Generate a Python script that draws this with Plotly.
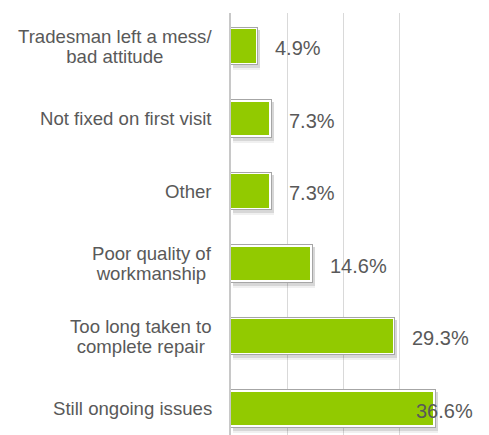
import plotly.graph_objects as go

# Reasons for dissatisfaction with repairs (top to bottom)
categories = [
    "Tradesman left a mess/<br>bad attitude",
    "Not fixed on first visit",
    "Other",
    "Poor quality of<br>workmanship",
    "Too long taken to<br>complete repair",
    "Still ongoing issues",
]
values = [4.9, 7.3, 7.3, 14.6, 29.3, 36.6]
value_labels = ["4.9%", "7.3%", "7.3%", "14.6%", "29.3%", "36.6%"]
grid_ticks = [0, 10, 20, 30, 40]

# layout constants
W, H = 489, 435
M_L, M_R, M_T, M_B = 231, 34, 13, 0
X_MAX = 40
PX_PER_PCT = (W - M_L - M_R) / X_MAX
PITCH = 72.5                      # pixels per category slot
PX_PER_CAT = PITCH
Y_TOP = -(46 - M_T) / PITCH
Y_BOTTOM = Y_TOP + (H - M_T - M_B) / PITCH
BAR_W = 0.537

GREEN = "#92CA00"
TEXT = "#595959"
FONT = "Liberation Sans, Arial, sans-serif"


def px_x(px):
    return px / PX_PER_PCT


def px_y(px):
    return px / PX_PER_CAT


fig = go.Figure()

# soft drop shadow (two layers)
for dx, dy, grow, alpha in [(3, 4, 2, 0.06), (2, 3, 0, 0.10)]:
    fig.add_trace(go.Bar(
        y=categories, x=values, orientation="h",
        base=px_x(dx) - px_x(grow / 2), width=BAR_W + px_y(grow),
        offset=-(BAR_W + px_y(grow)) / 2 + px_y(dy),
        marker=dict(color=f"rgba(0,0,0,{alpha})", line=dict(width=0)),
        hoverinfo="skip", showlegend=False,
    ))

# grey outline
fig.add_trace(go.Bar(
    y=categories, x=values, orientation="h", width=BAR_W,
    marker=dict(color="#a6a6a6", line=dict(width=0)),
    hoverinfo="skip", showlegend=False,
))
# white inner border
fig.add_trace(go.Bar(
    y=categories, x=[v - px_x(1) for v in values], orientation="h",
    width=BAR_W - px_y(2),
    marker=dict(color="#ffffff", line=dict(width=0)),
    hoverinfo="skip", showlegend=False,
))
# green fill
fig.add_trace(go.Bar(
    y=categories, x=[v - px_x(2.5) for v in values], orientation="h",
    width=BAR_W - px_y(5),
    marker=dict(color=GREEN, line=dict(width=0)),
    showlegend=False,
))

annotations = []
# category labels, centred lines with tight spacing
for cat in categories:
    annotations.append(dict(
        x=0, xref="paper", y=cat, yref="y",
        text=f'<span style="font-size:18.6px">{cat}</span>',
        xanchor="right", yanchor="middle", align="center",
        xshift=-17, showarrow=False,
        font=dict(family=FONT, size=15.4, color=TEXT),
    ))

# value labels, kept inside the right edge of the figure
label_font = 20
right_limit = px_x(W - 14 - M_L)
for cat, v, lab in zip(categories, values, value_labels):
    est_w = (len(lab) - 2) * 0.556 * label_font + 0.278 * label_font + 0.889 * label_font
    if v + px_x(16 + est_w) > right_limit:
        annotations.append(dict(
            x=right_limit / X_MAX, xref="paper", y=cat, yref="y", text=lab,
            xanchor="right", yanchor="middle", yshift=-2, showarrow=False,
            font=dict(family=FONT, size=label_font, color=TEXT),
        ))
    else:
        annotations.append(dict(
            x=v, xref="x", y=cat, yref="y", text=lab,
            xanchor="left", yanchor="middle", xshift=15, yshift=-2,
            showarrow=False,
            font=dict(family=FONT, size=label_font, color=TEXT),
        ))

fig.update_layout(
    width=W, height=H,
    margin=dict(l=M_L, r=M_R, t=M_T, b=M_B, pad=0),
    paper_bgcolor="white", plot_bgcolor="white",
    barmode="overlay", bargap=0,
    annotations=annotations,
    xaxis=dict(
        range=[0, X_MAX], tickvals=grid_ticks, showticklabels=False,
        showgrid=True, gridcolor="#d9d9d9", gridwidth=1.3,
        zeroline=False, showline=False, ticks="",
    ),
    yaxis=dict(
        type="category", categoryorder="array", categoryarray=categories,
        range=[Y_BOTTOM, Y_TOP], showticklabels=False, showgrid=False,
        zeroline=False, showline=True, linecolor="#c8c8c8", linewidth=1.5,
        ticks="",
    ),
)

fig.write_html("out.html")
